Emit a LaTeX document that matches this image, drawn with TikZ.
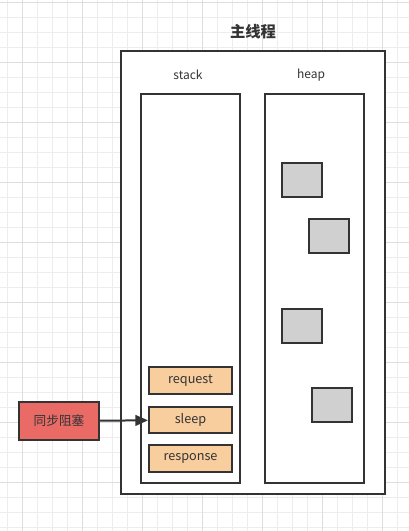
\documentclass[tikz,border=0pt]{standalone}
\usepackage{fontspec}
\setmainfont{Noto Sans CJK SC}
\usetikzlibrary{arrows.meta}
\definecolor{linec}{HTML}{333333}
\definecolor{itemc}{HTML}{F9CE9F}
\definecolor{objc}{HTML}{D0D0D0}
\definecolor{blockc}{HTML}{EA6B66}
\tikzset{
	box/.style={draw=linec, line width=1.5pt, inner sep=0pt, fill=white},
	item/.style={box, fill=itemc, minimum width=62.25pt, minimum height=20pt, font=\fontsize{9.5}{10}\selectfont, text=linec},
	heapobj/.style={box, fill=objc, minimum width=30pt, minimum height=25.5pt},
}
\begin{document}
\begin{tikzpicture}[x=0.75pt, y=-0.75pt, >={Triangle[length=9.5pt, width=8pt]}]
				\useasboundingbox (0,0) rectangle (409,531);
				% 1. 背景网格
				\fill[white] (0,0) rectangle (409,531);
				\foreach \x in {7,22,...,409} \draw[black!7, line width=0.6pt] (\x,0) -- (\x,531);
				\foreach \y in {2,17,...,531} \draw[black!7, line width=0.6pt] (0,\y) -- (409,\y);
				\foreach \x in {22,82,...,409} \draw[black!13, line width=0.6pt] (\x,0) -- (\x,531);
				\foreach \y in {2,62,...,531} \draw[black!13, line width=0.6pt] (0,\y) -- (409,\y);
				
				% 2. 主线程外框与标题
				\node[box, minimum width=198pt, minimum height=332.25pt] (thread) at (253,272.5) {};
				\node[font=\fontsize{11.5}{12}\selectfont\bfseries, text=linec] (title) at (253,32) {主线程};
				
				% 3. stack 和 heap
				\node[box, minimum width=74.25pt, minimum height=291.75pt] (stack) at (190.5,288.5) {};
				\node[box, minimum width=74.25pt, minimum height=291.75pt] (heap) at (314.5,288.5) {};
				\node[font=\fontsize{9}{10}\selectfont, text=linec] (stacklbl) at (188,75) {stack};
				\node[font=\fontsize{9}{10}\selectfont, text=linec] (heaplbl) at (311,75) {heap};
				
				% 4. 栈帧
				\node[item] (request) at (190.5,380.5) {request};
				\node[item] (sleep) at (190.5,420) {sleep};
				\node[item] (response) at (190.5,458.5) {response};
				
				% 5. 堆对象
				\node[heapobj] (obj1) at (302,180) {};
				\node[heapobj] (obj2) at (328.5,235.5) {};
				\node[heapobj] (obj3) at (302,325.5) {};
				\node[heapobj] (obj4) at (331.5,404.5) {};
				
				% 6. 同步阻塞
				\node[box, fill=blockc, minimum width=60pt, minimum height=28.5pt, font=\fontsize{9.5}{10}\selectfont, text=linec] (block) at (59,421) {同步阻塞};
				\draw[->, draw=linec, fill=linec, line width=1.5pt] (block) -- (sleep);
			\end{tikzpicture}
\end{document}
